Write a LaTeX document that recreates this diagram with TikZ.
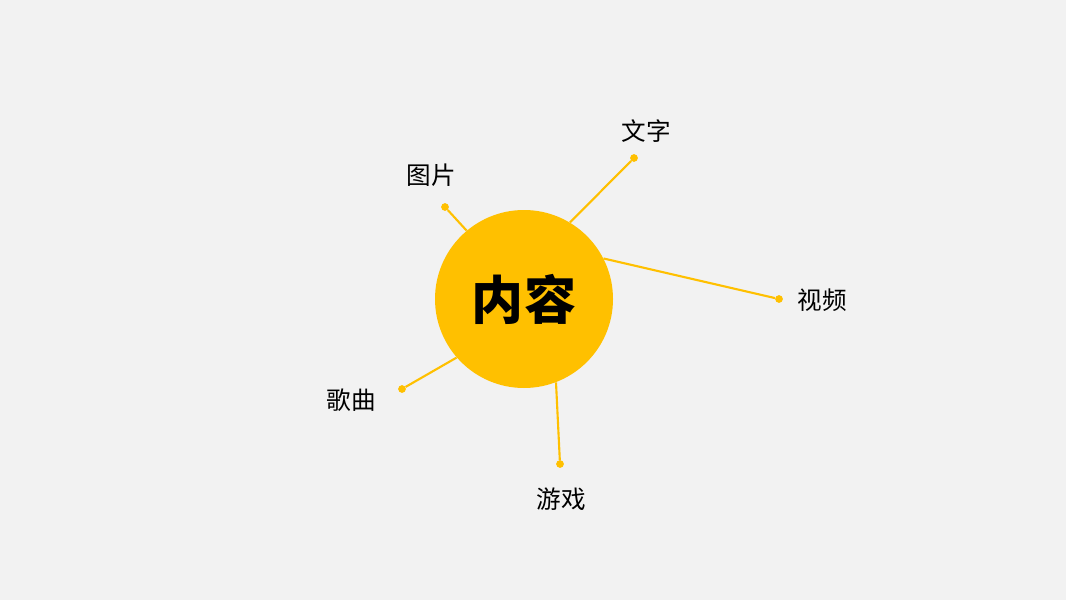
\documentclass[tikz,border=0pt]{standalone}
\usepackage{fontspec}
\newfontfamily\cjk{Noto Sans CJK SC}
\definecolor{gold}{HTML}{FFC000}
\definecolor{paper}{HTML}{F2F2F2}
\usetikzlibrary{positioning}
\tikzset{
    spoke/.style={gold,line width=1.5pt},
    tip/.style={circle,fill=gold,inner sep=0pt,minimum size=5.5pt},
    tag/.style={font=\cjk\fontsize{17.5}{20}\selectfont,text=black}
}
\begin{document}
\begin{tikzpicture}
        \fill[paper] (0,0) rectangle (26.65,15);
        \useasboundingbox (0,0) rectangle (26.65,15);
        \node[circle,fill=gold,minimum size=4.45cm,inner sep=0pt] (hub) at (13.1,7.525)
            {\cjk\bfseries\fontsize{37}{40}\selectfont 内容};
        \node[tip] (wenzi) at (15.85,11.05) {};
        \node[tip] (tupian) at (11.125,9.825) {};
        \node[tip] (shipin) at (19.475,7.525) {};
        \node[tip] (gequ) at (10.05,5.275) {};
        \node[tip] (youxi) at (14,3.4) {};
        \draw[spoke] (hub.59) -- (wenzi);
        \draw[spoke] (hub.130) -- (tupian);
        \draw[spoke] (hub.27) -- (shipin);
        \draw[spoke] (hub.221) -- (gequ);
        \draw[spoke] (hub.291) -- (youxi);
        \node[tag] (wenzi-t) at (16.15,11.725) {文字};
        \node[tag] (tupian-t) at (10.775,10.625) {图片};
        \node[tag] (shipin-t) at (20.55,7.5) {视频};
        \node[tag] (gequ-t) at (8.775,5) {歌曲};
        \node[tag] (youxi-t) at (14.025,2.525) {游戏};
    \end{tikzpicture}
\end{document}
